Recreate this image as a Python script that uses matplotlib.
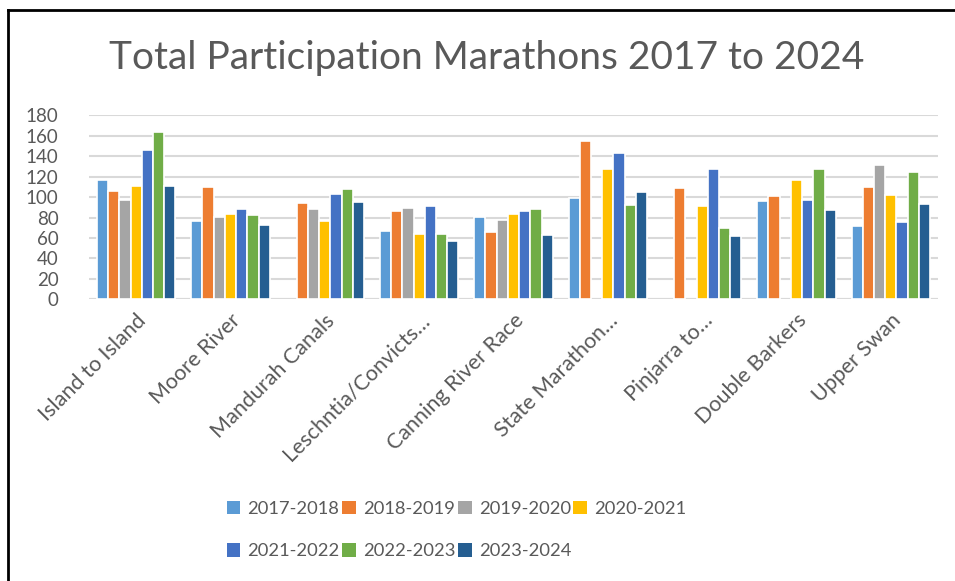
import matplotlib
matplotlib.use("Agg")
import matplotlib.pyplot as plt
from matplotlib.lines import Line2D
from matplotlib.patches import Patch
import numpy as np

plt.rcParams['font.family'] = ['Lato', 'DejaVu Sans']

categories = ["Island to Island", "Moore River", "Mandurah Canals", "Leschntia/Convicts…",
              "Canning River Race", "State Marathon…", "Pinjarra to…", "Double Barkers", "Upper Swan"]
seasons = ["2017-2018", "2018-2019", "2019-2020", "2020-2021", "2021-2022", "2022-2023", "2023-2024"]
nan = np.nan
s2017 = [117, 77, nan, 67, 81, 99, nan, 96, 72]
s2018 = [106, 110, 94, 86, 66, 155, 109, 101, 110]
s2019 = [97, 81, 88, 89, 78, nan, nan, nan, 131]
s2020 = [111, 83, 77, 64, 83, 127, 91, 117, 102]
s2021 = [146, 88, 103, 91, 86, 143, 127, 97, 76]
s2022 = [164, 82, 108, 64, 88, 92, 70, 127, 125]
s2023 = [111, 73, 95, 57, 63, 105, 62, 87, 93]
series = [s2017, s2018, s2019, s2020, s2021, s2022, s2023]
colors = ["#5B9BD5", "#ED7D31", "#A5A5A5", "#FFC000", "#4472C4", "#70AD47", "#255E91"]
yticks = [0, 20, 40, 60, 80, 100, 120, 140, 160, 180]

txt = "#595959"
fig = plt.figure(figsize=(9.55, 5.81), dpi=100)
ax = fig.add_axes([89/955, 1-299.3/581, (938-89)/955, (299.3-115.3)/581])

x = np.arange(len(categories))
step = 0.119
for i, (vals, c) in enumerate(zip(series, colors)):
    off = (i - 3) * step
    ax.bar(x + off, vals, width=step, color=c, edgecolor="white", linewidth=1.2, zorder=3)

ax.set_xlim(-0.5, len(categories) - 0.5)
ax.set_ylim(0, 180)
ax.set_yticks(yticks)
ax.yaxis.grid(True, color="#D9D9D9", linewidth=1.5, zorder=0)
for sp in ax.spines.values():
    sp.set_visible(False)
ax.axhline(0, color="#D9D9D9", linewidth=1.5, zorder=1)
ax.tick_params(axis='both', length=0, labelsize=13.5, colors=txt)
ax.tick_params(axis='y', pad=22)
ax.set_xticks(x)
ax.set_xticklabels(categories, rotation=45, ha='right', rotation_mode='anchor', fontsize=15.5)
ax.tick_params(axis='x', pad=8)

fig.text(487/955, 1-58/581, "Total Participation Marathons 2017 to 2024", ha='center', va='center',
         fontsize=28, color=txt)

order = [0, 4, 1, 5, 2, 6, 3]
handles = [Patch(facecolor=colors[k], edgecolor='none') for k in order]
labels = [seasons[k] for k in order]
leg = fig.legend(handles, labels, loc='upper left', bbox_to_anchor=(210/955, 1-484/581), ncol=4,
                 frameon=False, fontsize=13.2, handlelength=0.75, handleheight=0.75,
                 handletextpad=0.4, columnspacing=0.12, labelspacing=1.45, labelcolor=txt)

fig.add_artist(Line2D([8/955, 8/955], [0, 1-10/581], transform=fig.transFigure, color='black', linewidth=2))
fig.add_artist(Line2D([8/955, 1], [1-10/581, 1-10/581], transform=fig.transFigure, color='black', linewidth=2))

fig.savefig("out.png", dpi=100)
